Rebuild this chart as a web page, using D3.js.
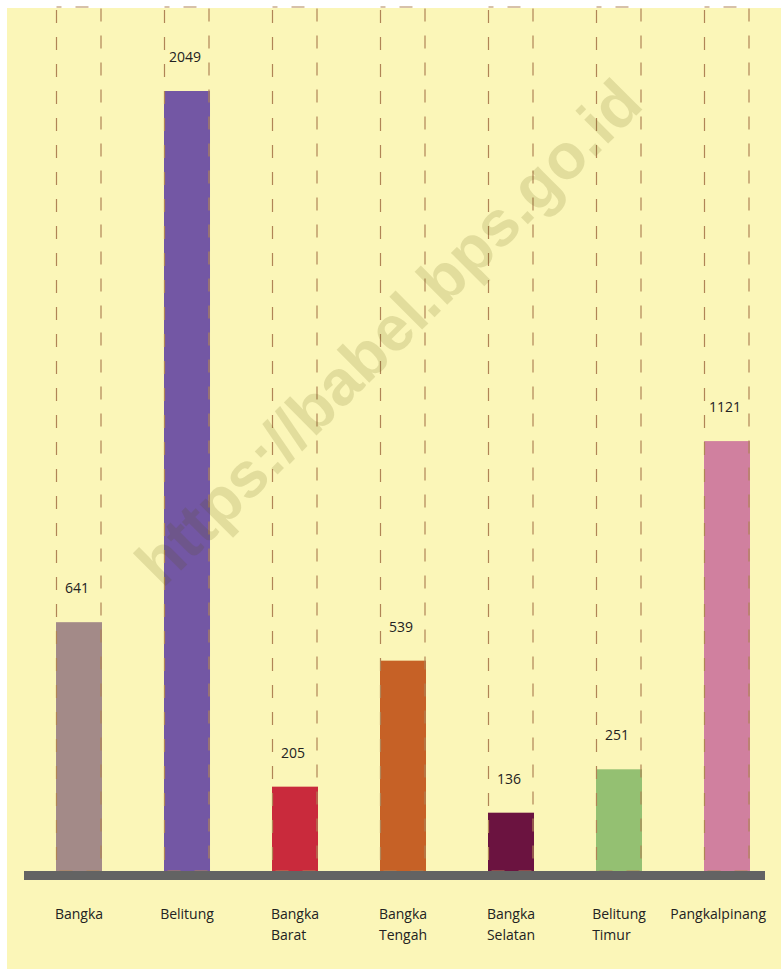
<!DOCTYPE html>
<html>
<head>
<meta charset="utf-8">
<script src="https://cdn.jsdelivr.net/npm/d3@7"></script>
<style>
  body { margin: 0; background: #fff; }
  text { font-family: "Open Sans", sans-serif; }
</style>
</head>
<body>
<script>
// data
var regions = ["Bangka", "Belitung", "Bangka Barat", "Bangka Tengah", "Bangka Selatan", "Belitung Timur", "Pangkalpinang"];
var values = [641, 2049, 205, 539, 136, 251, 1121];
var barColors = ["#a38a88", "#7357a4", "#c92a3c", "#c66126", "#6b1340", "#94c072", "#d0809f"];
var watermark = "https://babel.bps.go.id";

var width = 781, height = 969;
var baseY = 871;

var svg = d3.select("body")
  .append("svg")
    .attr("width", width)
    .attr("height", height);

// yellow panel
svg.append("rect")
  .attr("x", 7)
  .attr("y", 8)
  .attr("width", width - 7)
  .attr("height", height - 8)
  .attr("fill", "#fbf6b8");

var x = d3.scaleBand()
  .domain(regions)
  .range([25, 781])
  .paddingInner(0.574)
  .paddingOuter(0.287);

var y = d3.scaleLinear()
  .domain([0, 2049])
  .range([864, 91]);

var data = regions.map(function(r, i) {
  return { region: r, value: values[i], color: barColors[i] };
});

// bars
svg.selectAll("rect.bar")
  .data(data)
  .enter().append("rect")
    .attr("class", "bar")
    .attr("x", function(d) { return x(d.region); })
    .attr("y", function(d) { return y(d.value); })
    .attr("width", x.bandwidth())
    .attr("height", function(d) { return baseY - y(d.value); })
    .attr("fill", function(d) { return d.color; });

// dashed frames round each column
svg.selectAll("rect.frame")
  .data(data)
  .enter().append("rect")
    .attr("class", "frame")
    .attr("x", function(d) { return x(d.region) + 0.5; })
    .attr("y", 7)
    .attr("width", x.bandwidth() - 1.5)
    .attr("height", baseY - 7)
    .attr("fill", "none")
    .attr("stroke", "#b08456")
    .attr("stroke-width", 1.2)
    .attr("stroke-dasharray", "13,14")
    .attr("stroke-dashoffset", 8);

// value labels
svg.selectAll("text.val")
  .data(data)
  .enter().append("text")
    .attr("class", "val")
    .attr("x", function(d) { return x(d.region) + x.bandwidth() / 2 - 2; })
    .attr("y", function(d) { return y(d.value) - 29; })
    .attr("text-anchor", "middle")
    .attr("font-size", 14)
    .attr("fill", "#222")
    .text(function(d) { return d.value; });

// baseline
svg.append("rect")
  .attr("x", 24)
  .attr("y", baseY)
  .attr("width", 741)
  .attr("height", 9)
  .attr("fill", "#636363");

// category labels, block centred under the bar, kept inside the panel
data.forEach(function(d) {
  var lines = d.region.split(" ");
  var g = svg.append("text")
    .attr("font-size", 14)
    .attr("fill", "#222");
  lines.forEach(function(l, i) {
    g.append("tspan")
      .attr("x", 0)
      .attr("y", 919 + i * 21)
      .text(l);
  });
  var w = 0;
  g.selectAll("tspan").each(function() { w = Math.max(w, this.getComputedTextLength()); });
  var left = x(d.region) + x.bandwidth() / 2 - w / 2;
  left = Math.min(left, 766 - w);
  g.selectAll("tspan").attr("x", left);
});

// watermark
svg.append("text")
  .attr("transform", "translate(392,336) rotate(-45)")
  .attr("text-anchor", "middle")
  .attr("dominant-baseline", "middle")
  .style("font-family", "'Liberation Sans', Arial, sans-serif")
  .attr("font-weight", "bold")
  .attr("font-size", 64)
  .attr("fill", "#5a5000")
  .attr("fill-opacity", 0.15)
  .text(watermark);
</script>
</body>
</html>
